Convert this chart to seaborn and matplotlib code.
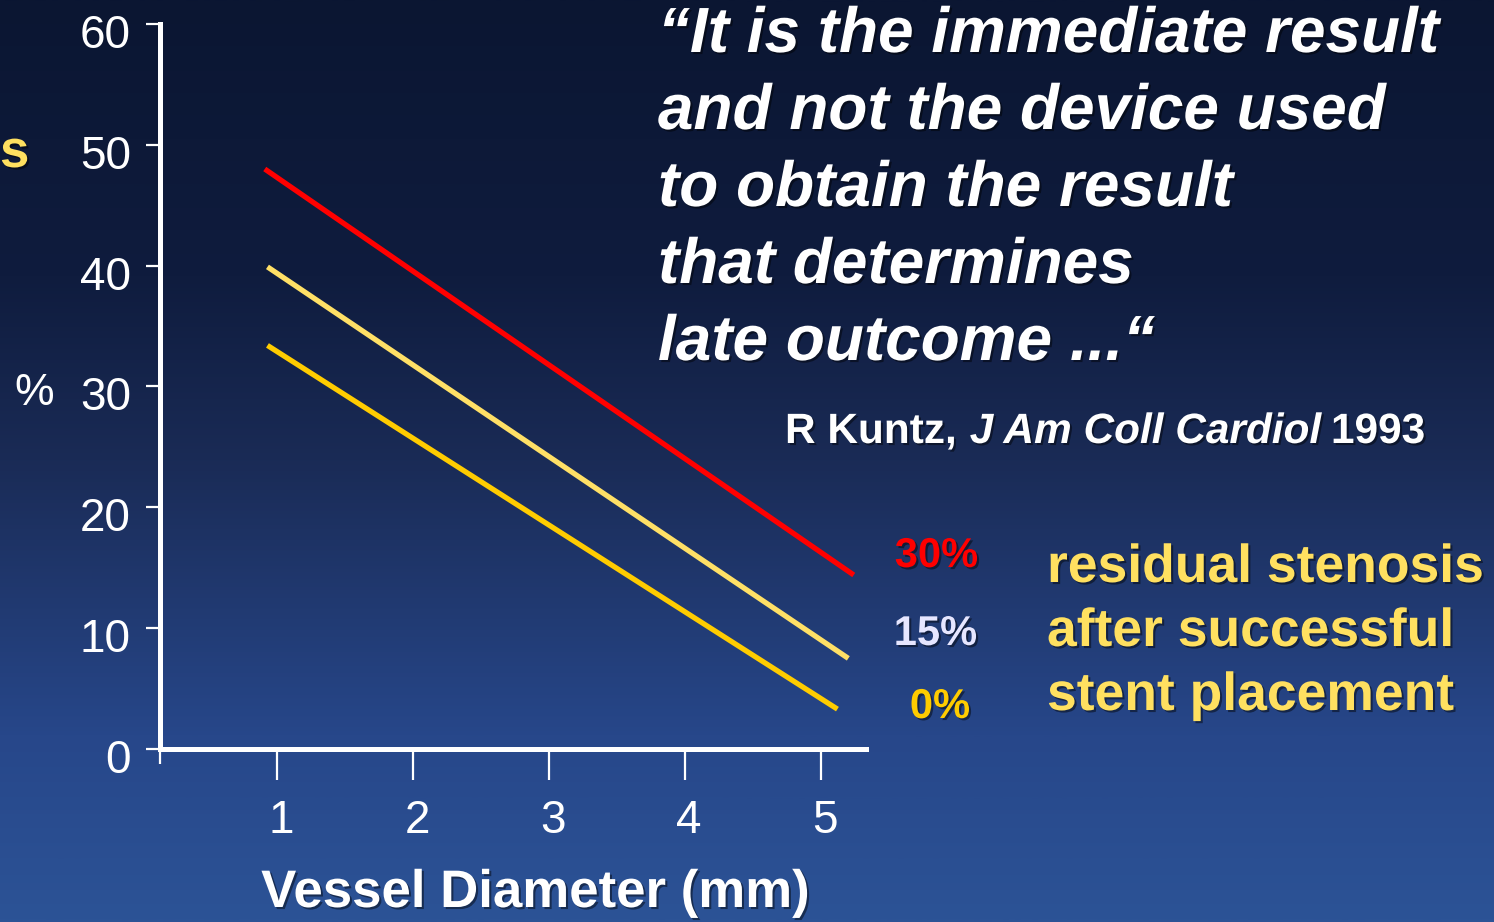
import numpy as np
import pandas as pd
import matplotlib
matplotlib.use("Agg")
import matplotlib.pyplot as plt
import matplotlib.patheffects as pe
from matplotlib.colors import LinearSegmentedColormap
from matplotlib.ticker import FixedLocator
from matplotlib.transforms import ScaledTranslation
import seaborn as sns

# Restenosis vs. vessel diameter for three levels of residual stenosis
series = ["30%", "15%", "0%"]
x_start = [0.91, 0.93, 0.93]
x_end = [5.24, 5.20, 5.12]
y_start = [48.0, 39.9, 33.4]
y_end = [14.4, 7.5, 3.3]
line_colors = ["#ff0000", "#ffe066", "#ffcc00"]
label_colors = ["#ff0000", "#e6e6ff", "#ffcc00"]

x_ticks = [1, 2, 3, 4, 5]
y_ticks = [0, 10, 20, 30, 40, 50, 60]
x_label = "Vessel Diameter (mm)"

quote_lines = [
    "\u201cIt is the immediate result",
    "and not the device used",
    "to obtain the result",
    "that determines",
    "late outcome ...\u201c",
]
caption_lines = ["residual stenosis", "after successful", "stent placement"]

W, H = 1494, 922
DPI = 100

sns.set_theme(style="white")
plt.rcParams["font.family"] = ["Liberation Sans", "DejaVu Sans"]

fig = plt.figure(figsize=(W / DPI, H / DPI), dpi=DPI)


def fx(px):
    return px / W


def fy(py):
    return 1 - py / H


# Slide background: vertical navy-to-blue gradient
bg = fig.add_axes([0, 0, 1, 1], zorder=-10)
grad_cmap = LinearSegmentedColormap.from_list(
    "slide",
    [(0.0, "#0b1632"), (0.30, "#0f1c3e"), (0.50, "#1a2b56"),
     (0.80, "#27478a"), (1.0, "#2c5396")],
)
grad = np.linspace(0, 1, 512).reshape(-1, 1)
bg.imshow(grad, cmap=grad_cmap, aspect="auto", extent=[0, 1, 0, 1], origin="upper")
bg.set_axis_off()

# Main chart
ax = fig.add_axes([fx(160), fy(749), fx(866) - fx(160), fy(24) - fy(749)])
ax.patch.set_alpha(0)

df = pd.DataFrame({
    "series": np.repeat(series, 2),
    "diameter": np.ravel(np.column_stack([x_start, x_end])),
    "restenosis": np.ravel(np.column_stack([y_start, y_end])),
})
sns.lineplot(data=df, x="diameter", y="restenosis", hue="series",
             hue_order=series, palette=dict(zip(series, line_colors)),
             linewidth=3.8, legend=False, ax=ax, sort=False)
for ln in ax.get_lines():
    ln.set_solid_capstyle("butt")

ax.set_xlim(0.14, 5.33)
ax.set_ylim(0, 60)
ax.set_xticks(x_ticks)
ax.set_yticks(y_ticks)
ax.xaxis.set_minor_locator(FixedLocator([0.14]))
ax.set_xlabel("")
ax.set_ylabel("")

for side in ["top", "right"]:
    ax.spines[side].set_visible(False)
for side in ["left", "bottom"]:
    ax.spines[side].set_color("white")
    ax.spines[side].set_linewidth(3.6)
    ax.spines[side].set_capstyle("projecting")

ax.tick_params(axis="y", which="major", direction="out", length=10, width=1.6,
               color="white", labelcolor="white", labelsize=33, pad=11, left=True)
ax.tick_params(axis="x", which="major", direction="out", length=22, width=1.6,
               color="white", labelcolor="white", labelsize=33, pad=14, bottom=True)
ax.tick_params(axis="x", which="minor", direction="out", length=11, width=1.6,
               color="white", bottom=True)
for lab in ax.get_yticklabels():
    lab.set_transform(lab.get_transform() + ScaledTranslation(0, -0.07, fig.dpi_scale_trans))
for lab in ax.get_xticklabels():
    lab.set_transform(lab.get_transform() + ScaledTranslation(0.04, 0, fig.dpi_scale_trans))

shadow = [pe.withSimplePatchShadow(offset=(1.5, -1.5), shadow_rgbFace="black", alpha=0.45)]

fig.text(fx(535), fy(907), x_label, color="white", fontsize=38, fontweight="bold",
         ha="center", va="baseline", path_effects=shadow)

# Truncated axis title fragments on the left edge
fig.text(fx(0), fy(167), "s", color="#ffe060", fontsize=38, fontweight="bold",
         ha="left", va="baseline", path_effects=shadow)
fig.text(fx(14), fy(405), "%", color="white", fontsize=32, ha="left", va="baseline")

# Quotation
for i, line in enumerate(quote_lines):
    fig.text(fx(658), fy(52 + 77 * i), line, color="white", fontsize=46,
             fontweight="bold", fontstyle="italic", ha="left", va="baseline",
             path_effects=shadow)

# Citation with italic journal name
t1 = fig.text(fx(785), fy(443), "R Kuntz,", color="white", fontsize=30.5,
              fontweight="bold", ha="left", va="baseline", path_effects=shadow)
t2 = ax.annotate("J Am Coll Cardiol", xy=(1, 0), xycoords=t1, xytext=(9, 0),
                 textcoords="offset points", color="white", fontsize=30.5,
                 fontweight="bold", fontstyle="italic", ha="left", va="bottom",
                 path_effects=shadow, annotation_clip=False)
ax.annotate("1993", xy=(1, 0), xycoords=t2, xytext=(7, 0),
            textcoords="offset points", color="white", fontsize=30.5,
            fontweight="bold", ha="left", va="bottom", path_effects=shadow,
            annotation_clip=False)

# Series labels and caption
label_right = [978, 977, 970]
label_base = [567, 645, 718]
for name, col, xr, yb in zip(series, label_colors, label_right, label_base):
    fig.text(fx(xr), fy(yb), name, color=col, fontsize=30, fontweight="bold",
             ha="right", va="baseline", path_effects=shadow)

caption_base = [582, 646, 710]
for line, yb in zip(caption_lines, caption_base):
    fig.text(fx(1047), fy(yb), line, color="#ffe060", fontsize=38.5,
             fontweight="bold", ha="left", va="baseline", path_effects=shadow)

fig.savefig("out.png", dpi=DPI)
